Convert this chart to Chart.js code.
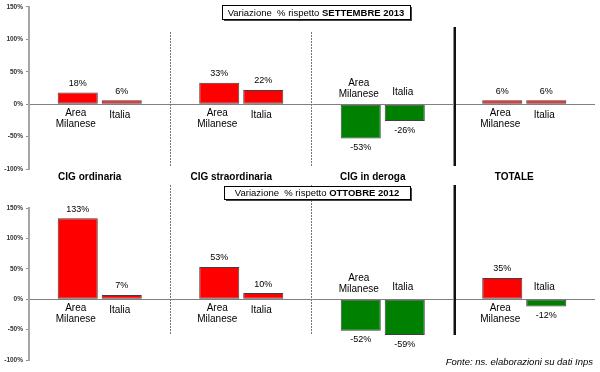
<!DOCTYPE html>
<html><head><meta charset="utf-8">
<script src="https://cdn.jsdelivr.net/npm/chart.js@4.4.1/dist/chart.umd.min.js"></script>
<style>
html,body{margin:0;padding:0;background:#fff;}
#wrap{position:relative;width:600px;height:372px;overflow:hidden;background:#fff;}
canvas{position:absolute;left:0;}
</style></head><body>
<div id="wrap">
<canvas id="c1" width="600" height="192" style="top:0;width:600px;height:192px"></canvas>
<canvas id="c2" width="600" height="192" style="top:180px;width:600px;height:192px"></canvas>
</div>
<script>
const categories = ['CIG ordinaria', 'CIG straordinaria', 'CIG in deroga', 'TOTALE'];
const seriesNames = ['Area Milanese', 'Italia'];
const settembre2013AreaMilanese = [18, 33, -53, 6];
const settembre2013Italia = [6, 22, -26, 6];
const ottobre2012AreaMilanese = [133, 53, -52, 35];
const ottobre2012Italia = [7, 10, -59, -12];
const yTicks = [-100, -50, 0, 50, 100, 150];
const boxTop = ['Variazione  % rispetto ', 'SETTEMBRE 2013'];
const boxBottom = ['Variazione  % rispetto ', 'OTTOBRE 2012'];
const sourceNote = 'Fonte: ns. elaborazioni su dati Inps';

const FONT = '"Liberation Sans", Arial, sans-serif';

function drawBox(ctx, x1, y1, x2, y2, parts) {
  ctx.fillStyle = '#fff';
  ctx.fillRect(x1, y1, x2 - x1, y2 - y1);
  ctx.strokeStyle = '#000';
  ctx.lineWidth = 1;
  ctx.strokeRect(x1 + 0.5, y1 + 0.5, x2 - x1, y2 - y1);
  ctx.fillStyle = '#444';
  ctx.fillRect(x2 + 1, y1 + 2, 1, y2 - y1);
  ctx.fillRect(x1 + 2, y2 + 1, x2 - x1, 1);
  ctx.font = '9.5px ' + FONT;
  const w1 = ctx.measureText(parts[0]).width;
  ctx.font = 'bold 9.5px ' + FONT;
  const w2 = ctx.measureText(parts[1]).width;
  let sx = (x1 + x2) / 2 - (w1 + w2) / 2;
  const cy = (y1 + y2) / 2 + 1;
  ctx.fillStyle = '#000';
  ctx.textAlign = 'left';
  ctx.textBaseline = 'middle';
  ctx.font = '9.5px ' + FONT;
  ctx.fillText(parts[0], sx, cy);
  ctx.font = 'bold 9.5px ' + FONT;
  ctx.fillText(parts[1], sx + w1, cy);
}

function panelPlugin(cfg) {
  return {
    id: 'panel',
    afterDatasetsDraw(chart) {
      const ctx = chart.ctx;
      const x = chart.scales.x, y = chart.scales.y;
      const zero = y.getPixelForValue(0);
      ctx.save();
      // dividers between groups
      for (let i = 0; i < categories.length - 1; i++) {
        const bx = Math.round((x.getPixelForValue(i) + x.getPixelForValue(i + 1)) / 2);
        if (i === categories.length - 2) {
          ctx.fillStyle = '#8a8a8a';
          ctx.fillRect(bx - 1, cfg.solidTop, 1, cfg.solidBottom - cfg.solidTop);
          ctx.fillStyle = '#111';
          ctx.fillRect(bx, cfg.solidTop, 2, cfg.solidBottom - cfg.solidTop);
        } else {
          ctx.strokeStyle = '#777';
          ctx.lineWidth = 1;
          ctx.setLineDash([2, 1]);
          ctx.beginPath();
          ctx.moveTo(bx - 0.5, cfg.dotTop);
          ctx.lineTo(bx - 0.5, cfg.dotBottom);
          ctx.stroke();
          ctx.setLineDash([]);
        }
      }
      // value labels and series labels
      chart.data.datasets.forEach((ds, di) => {
        const meta = chart.getDatasetMeta(di);
        meta.data.forEach((bar, i) => {
          const v = ds.data[i];
          const cx = bar.x;
          ctx.fillStyle = '#000';
          ctx.textAlign = 'center';
          ctx.textBaseline = 'middle';
          ctx.font = '9px ' + FONT;
          ctx.fillText(v + '%', cx, v >= 0 ? bar.y - 9 : bar.y + 9);
          ctx.font = '10px ' + FONT;
          const lines = ds.label.split(' ');
          let ys;
          if (v >= 0) ys = lines.length > 1 ? [zero + 9, zero + 20] : [zero + 11];
          else ys = lines.length > 1 ? [zero - 21, zero - 10] : [zero - 12];
          lines.forEach((t, k) => ctx.fillText(t, cx - 2, ys[k]));
        });
      });
      // group titles
      if (cfg.titles) {
        ctx.font = 'bold 10px ' + FONT;
        ctx.textAlign = 'center';
        ctx.textBaseline = 'middle';
        ctx.fillStyle = '#000';
        categories.forEach((c, i) => ctx.fillText(c, x.getPixelForValue(i) - 10, cfg.titleY));
      }
      drawBox(ctx, cfg.box[0], cfg.box[1], cfg.box[2], cfg.box[3], cfg.boxText);
      if (cfg.note) {
        ctx.font = 'italic 9.5px ' + FONT;
        ctx.textAlign = 'right';
        ctx.textBaseline = 'middle';
        ctx.fillStyle = '#000';
        ctx.fillText(cfg.note, 593, cfg.noteY);
      }
      ctx.restore();
    }
  };
}

function makeChart(id, a, b, cfg) {
  const barStyle = {
    backgroundColor: c => (c.raw >= 0 ? '#ff0000' : '#008000'),
    borderColor: '#404040',
    borderWidth: 1,
    borderSkipped: false
  };
  return new Chart(document.getElementById(id), {
    type: 'bar',
    data: {
      labels: categories,
      datasets: [
        Object.assign({ label: seriesNames[0], data: a }, barStyle),
        Object.assign({ label: seriesNames[1], data: b }, barStyle)
      ]
    },
    options: {
      responsive: false,
      animation: false,
      devicePixelRatio: 1,
      layout: { padding: { top: cfg.padTop, bottom: cfg.padBottom, left: 0, right: 5 } },
      plugins: { legend: { display: false }, tooltip: { enabled: false } },
      datasets: { bar: { categoryPercentage: 0.622, barPercentage: 0.91 } },
      scales: {
        x: { display: false },
        y: {
          min: -100, max: 150,
          afterBuildTicks(s) { s.ticks = yTicks.map(v => ({ value: v })); },
          afterFit(s) { s.width = 29; },
          ticks: { callback: v => v + '%', font: { size: 6.5, weight: 'bold', family: FONT }, color: '#333', padding: 3 },
          grid: {
            color: c => (c.tick && c.tick.value === 0 ? '#808080' : 'rgba(0,0,0,0)'),
            tickColor: '#8c8c8c', tickLength: 3, lineWidth: 1
          },
          border: { color: '#a6a6a6', width: 2 }
        }
      }
    },
    plugins: [panelPlugin(cfg)]
  });
}

makeChart('c1', settembre2013AreaMilanese, settembre2013Italia, {
  padTop: 5, padBottom: 23,
  dotTop: 32, dotBottom: 167, solidTop: 27, solidBottom: 166,
  titles: true, titleY: 177,
  box: [222, 5, 410, 19], boxText: boxTop
});
makeChart('c2', ottobre2012AreaMilanese, ottobre2012Italia, {
  padTop: 28, padBottom: 12,
  dotTop: 5, dotBottom: 155, solidTop: 5, solidBottom: 155,
  titles: false,
  box: [224, 6, 410, 19], boxText: boxBottom,
  note: sourceNote, noteY: 182
});
</script>
</body></html>
